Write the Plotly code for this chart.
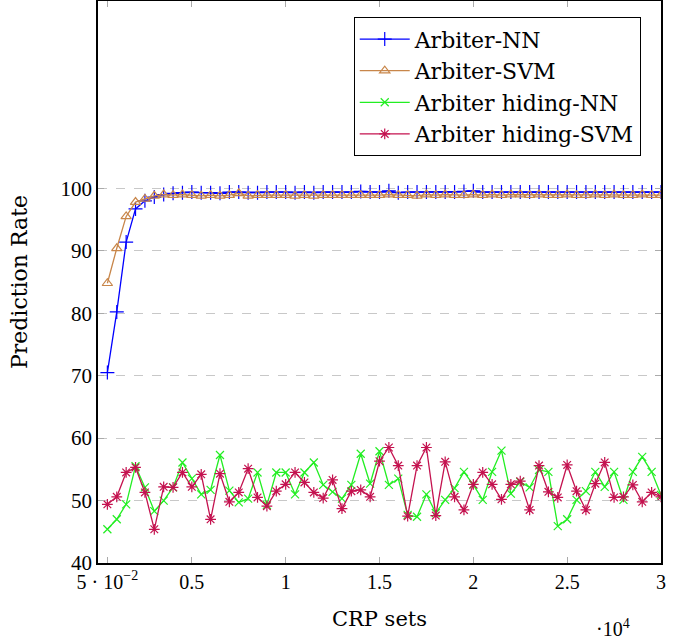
import plotly.graph_objects as go

# CRP sets (x, in units of 10^4)
crp_sets = [0.05, 0.10, 0.15, 0.20, 0.25, 0.30, 0.35, 0.40, 0.45, 0.50,
            0.55, 0.60, 0.65, 0.70, 0.75, 0.80, 0.85, 0.90, 0.95, 1.00,
            1.05, 1.10, 1.15, 1.20, 1.25, 1.30, 1.35, 1.40, 1.45, 1.50,
            1.55, 1.60, 1.65, 1.70, 1.75, 1.80, 1.85, 1.90, 1.95, 2.00,
            2.05, 2.10, 2.15, 2.20, 2.25, 2.30, 2.35, 2.40, 2.45, 2.50,
            2.55, 2.60, 2.65, 2.70, 2.75, 2.80, 2.85, 2.90, 2.95, 3.00]

arbiter_nn = [70.5, 80.2, 91.4, 96.7, 98.0, 98.6, 99.0, 99.2, 99.3, 99.4,
              99.3, 99.3, 99.2, 99.4, 99.4, 99.3, 99.3, 99.4, 99.4, 99.4,
              99.3, 99.4, 99.3, 99.4, 99.4, 99.4, 99.4, 99.5, 99.4, 99.4,
              99.6, 99.3, 99.4, 99.4, 99.4, 99.4, 99.4, 99.4, 99.5, 99.6,
              99.4, 99.4, 99.4, 99.4, 99.4, 99.4, 99.4, 99.4, 99.4, 99.4,
              99.4, 99.4, 99.4, 99.4, 99.4, 99.4, 99.4, 99.4, 99.4, 99.4]

arbiter_svm = [84.8, 90.4, 95.5, 97.8, 98.3, 98.8, 99.0, 98.9, 99.0, 98.9,
               98.8, 98.9, 98.8, 98.9, 99.2, 98.8, 98.9, 98.9, 98.9, 98.9,
               98.8, 98.9, 98.8, 98.9, 98.9, 98.9, 98.9, 98.9, 98.9, 98.9,
               99.0, 98.9, 98.9, 98.8, 99.0, 98.9, 99.0, 98.9, 98.9, 99.0,
               98.9, 99.0, 98.9, 99.0, 99.0, 98.9, 99.0, 98.9, 98.9, 99.0,
               98.9, 98.9, 99.0, 98.9, 99.0, 98.9, 98.9, 99.0, 98.9, 98.9]

hiding_nn = [45.4, 47.0, 49.4, 55.5, 52.1, 48.3, 50.0, 52.1, 56.1, 53.5,
             51.0, 51.7, 57.3, 51.6, 49.7, 50.3, 54.5, 49.3, 54.5, 54.5,
             51.0, 54.5, 56.1, 52.5, 51.4, 50.3, 52.5, 57.5, 52.7, 57.9,
             52.5, 53.5, 47.7, 47.4, 51.0, 48.0, 50.1, 52.0, 54.6, 52.5,
             50.1, 54.6, 58.0, 51.1, 53.0, 52.1, 54.9, 54.6, 45.9, 47.0,
             50.1, 51.5, 54.6, 52.2, 54.6, 50.1, 54.6, 57.0, 54.6, 50.9]

hiding_svm = [49.4, 50.6, 54.5, 55.3, 51.3, 45.4, 52.2, 52.1, 54.5, 52.2,
              54.2, 47.0, 54.3, 49.8, 51.3, 55.1, 50.5, 49.1, 51.5, 52.6,
              54.5, 52.9, 51.3, 50.4, 53.3, 48.7, 51.5, 51.7, 50.6, 56.3,
              58.5, 55.6, 47.5, 55.6, 58.5, 47.6, 56.2, 50.6, 48.5, 52.6,
              54.5, 52.6, 50.2, 52.6, 53.1, 48.5, 55.6, 51.4, 50.5, 55.7,
              51.5, 48.5, 52.7, 56.1, 50.5, 50.6, 52.5, 49.8, 51.3, 50.6]

series_names = ["Arbiter-NN", "Arbiter-SVM", "Arbiter hiding-NN", "Arbiter hiding-SVM"]
tick_vals_x = [0.05, 0.5, 1, 1.5, 2, 2.5, 3]
tick_text_x = ["5 · 10<sup>−2</sup>", "0.5", "1", "1.5", "2", "2.5", "3"]
tick_vals_y = [40, 50, 60, 70, 80, 90, 100]

FONT = "Liberation Serif"
FONT2 = "DejaVu Serif"

styles = [
    dict(color="#0000ff", symbol="cross-thin", size=10),
    dict(color="#c8864a", symbol="triangle-up-open", size=9),
    dict(color="#22ee22", symbol="x-thin", size=8),
    dict(color="#c4124f", symbol="asterisk-open", size=9),
]

fig = go.Figure()
for name, ys, st in zip(series_names, [arbiter_nn, arbiter_svm, hiding_nn, hiding_svm], styles):
    fig.add_trace(go.Scatter(
        x=crp_sets, y=ys, name=name, mode="lines+markers",
        line=dict(color=st["color"], width=1.3),
        marker=dict(symbol=st["symbol"], size=st["size"], color=st["color"],
                    line=dict(color=st["color"], width=1.2)),
    ))

fig.update_layout(
    width=686, height=641,
    margin=dict(l=98, r=25, t=1, b=78),
    plot_bgcolor="white", paper_bgcolor="white",
    font=dict(family=FONT, size=20, color="black"),
    showlegend=True,
    legend=dict(x=0.964, y=0.971, xanchor="right", yanchor="top",
                bgcolor="white", bordercolor="black", borderwidth=1,
                font=dict(family=FONT2, size=22), itemwidth=50,
                tracegroupgap=0),
    xaxis=dict(range=[0, 3], tickvals=tick_vals_x, ticktext=tick_text_x,
               showgrid=False, zeroline=False, automargin=False,
               showline=True, linecolor="black", linewidth=1.5, mirror="ticks",
               ticks="inside", ticklen=6, tickcolor="#aaaaaa",
               tickfont=dict(family=FONT, size=20),
               title=dict(text="CRP sets", font=dict(family=FONT2, size=21), standoff=20)),
    yaxis=dict(range=[40, 130], tickvals=tick_vals_y,
               showgrid=True, gridcolor="#c8c8c8", griddash="dash", gridwidth=1,
               zeroline=False, automargin=False,
               showline=True, linecolor="black", linewidth=1.5, mirror="ticks",
               ticks="inside", ticklen=6, tickcolor="#aaaaaa",
               tickfont=dict(family=FONT, size=21),
               title=dict(text="Prediction Rate", font=dict(family=FONT2, size=22), standoff=27)),
)

fig.add_annotation(text="·10<sup>4</sup>", xref="paper", yref="paper",
                   x=0.915, y=-0.115, xanchor="center", yanchor="middle",
                   showarrow=False, font=dict(family=FONT, size=20))

fig.write_html("out.html", config={"displayModeBar": False},
               post_script="document.body.style.margin='0';document.body.style.padding='0';")
